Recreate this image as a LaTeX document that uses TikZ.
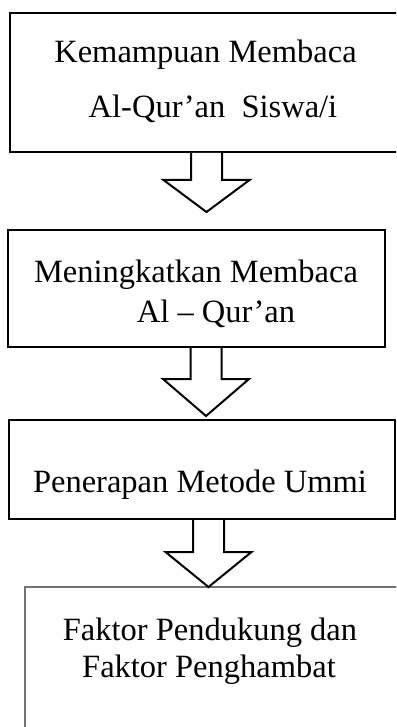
\documentclass[tikz,border=0pt]{standalone}
\usepackage{fontspec}
\setmainfont{Liberation Serif}
\usetikzlibrary{calc}

\tikzset{
  box/.style={draw, line width=2pt, rectangle, inner sep=0pt},
  lastbox/.style={draw=black!55, line width=1.5pt, rectangle, inner sep=0pt},
  txt/.style={anchor=base, inner sep=0pt, font=\fontsize{32.5}{39}\selectfont},
  blockarrow/.style={draw, fill=white, line width=2pt, line join=miter}
}
% #1 box above, #2 tip, #3 head length
\newcommand{\blockdown}[3]{%
  \draw[blockarrow] ($(#1.south -| #2)+(-15.5,0)$) -- ($(#2)+(-15.5,-#3)$)
    -- ($(#2)+(-43,-#3)$) -- (#2) -- ($(#2)+(43,-#3)$)
    -- ($(#2)+(15.5,-#3)$) -- ($(#1.south -| #2)+(15.5,0)$);}

\begin{document}
\begin{tikzpicture}[x=1pt,y=-1pt]
        \useasboundingbox (0,0) rectangle (396,727);
        \clip (0,0) rectangle (396,727);
        % boxes
        \node[box, minimum width=410, minimum height=139] (kemampuan) at (215,82.5) {};
        \node[box, minimum width=377, minimum height=117] (meningkatkan) at (196.5,288.5) {};
        \node[box, minimum width=386, minimum height=99] (penerapan) at (202,469.5) {};
        \node[lastbox, minimum width=395, minimum height=173] (faktor) at (222.5,673.5) {};
        % texts
        \node[txt] (kemA) at (205.5,63) {Kemampuan Membaca};
        \node[txt] (kemB) at (213,118) {Al-Qur’an\ \ Siswa/i};
        \node[txt] (menA) at (196,282) {Meningkatkan Membaca};
        \node[txt] (menB) at (216,322) {Al – Qur’an};
        \node[txt] (pen) at (200,492) {Penerapan Metode Ummi};
        \node[txt] (fakA) at (210,640) {Faktor Pendukung dan};
        \node[txt] (fakB) at (209,677) {Faktor Penghambat};
        % arrows
        \coordinate (tip1) at (206.5,212);
        \coordinate (tip2) at (206,416);
        \coordinate (tip3) at (208.5,587);
        \blockdown{kemampuan}{tip1}{32}
        \blockdown{meningkatkan}{tip2}{37}
        \blockdown{penerapan}{tip3}{35}
\end{tikzpicture}
\end{document}
